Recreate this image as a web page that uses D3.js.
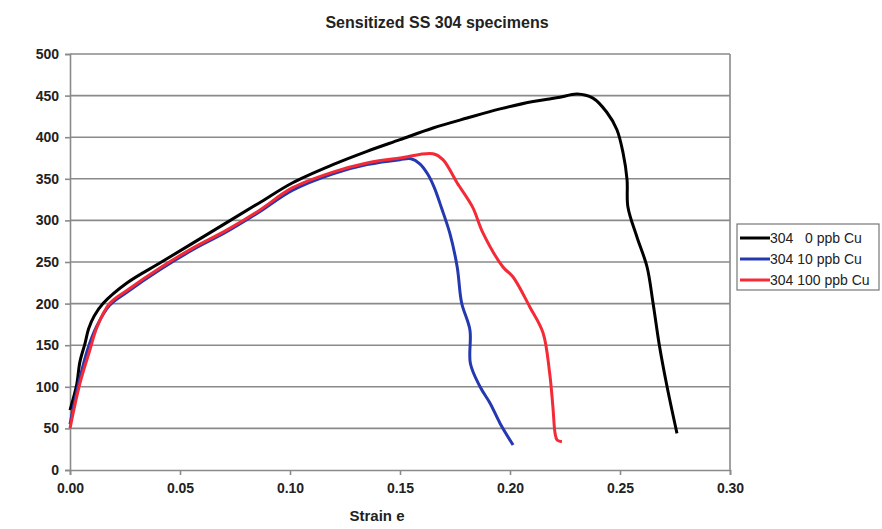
<html>
<head>
<script src="https://cdn.jsdelivr.net/npm/d3@7"></script>
<style>
  body { margin: 0; background: #fff; }
  text { font-family: "Liberation Sans", Arial, Helvetica, sans-serif; }
</style>
</head>
<body>
<script type="text/javascript">

// strain / stress pairs
var strain0 = [0, 0.003, 0.0045, 0.0068, 0.0085, 0.011, 0.015, 0.026, 0.041, 0.056, 0.071, 0.086, 0.101, 0.1195, 0.135, 0.15, 0.165, 0.1805, 0.1955, 0.2105, 0.218, 0.2227, 0.2305, 0.2377, 0.244, 0.2486, 0.2514, 0.2532, 0.2536, 0.2577, 0.2623, 0.265, 0.268, 0.2714, 0.2759];
var stress0 = [72, 102, 130, 152, 170, 185, 200, 225, 249, 273, 297, 321, 345, 367, 383, 397, 411, 423, 434, 443, 446, 448, 452, 447, 430, 409, 381, 349, 316, 280, 244, 201, 148, 100, 44];

var strain10 = [0, 0.004, 0.008, 0.012, 0.018, 0.026, 0.041, 0.056, 0.071, 0.086, 0.101, 0.1195, 0.135, 0.15, 0.155, 0.159, 0.1625, 0.1655, 0.169, 0.1727, 0.176, 0.178, 0.1818, 0.182, 0.1864, 0.191, 0.1955, 0.2014];
var stress10 = [55, 105, 145, 172, 198, 214, 241, 265, 286, 310, 336, 356, 367, 373, 374, 368, 356, 340, 314, 284, 244, 201, 168, 128, 100, 80, 56, 30];

var strain100 = [0, 0.0045, 0.009, 0.0123, 0.018, 0.026, 0.041, 0.056, 0.071, 0.086, 0.101, 0.1195, 0.135, 0.15, 0.165, 0.1695, 0.176, 0.183, 0.1877, 0.1968, 0.2014, 0.209, 0.215, 0.218, 0.2195, 0.2205, 0.2214, 0.2236];
var stress100 = [50, 104, 144, 172, 200, 216, 243, 267, 288, 312, 339, 358, 369, 375, 380, 373, 345, 316, 285, 244, 232, 196, 165, 117, 76, 44, 36, 34];

var seriesNames = ["304   0 ppb Cu", "304 10 ppb Cu", "304 100 ppb Cu"];
var seriesColors = ["#000000", "#2438b0", "#f42a36"];
var xTicks = [0, 0.05, 0.10, 0.15, 0.20, 0.25, 0.30];
var yTicks = [0, 50, 100, 150, 200, 250, 300, 350, 400, 450, 500];

var width = 882, height = 529;
var plotLeft = 70, plotRight = 730, plotTop = 54, plotBottom = 470;

var svg = d3.select("body").append("svg").attr("width", width).attr("height", height);

var x = d3.scaleLinear().domain([0, 0.30]).range([plotLeft, plotRight]);
var y = d3.scaleLinear().domain([0, 500]).range([plotBottom, plotTop]);

//gridlines
svg.append("g").selectAll("line").data(yTicks.slice(1)).enter().append("line")
  .attr("x1", plotLeft).attr("x2", plotRight)
  .attr("y1", function(d) { return y(d); }).attr("y2", function(d) { return y(d); })
  .attr("stroke", "#8a8a8a").attr("stroke-width", 1.6);

//right border
svg.append("line").attr("x1", plotRight).attr("x2", plotRight).attr("y1", plotTop).attr("y2", plotBottom)
  .attr("stroke", "#8a8a8a").attr("stroke-width", 1.6);

//axes
var yAxis = svg.append("g").attr("transform", "translate(" + plotLeft + ",0)")
  .call(d3.axisLeft(y).tickValues(yTicks).tickSize(5).tickPadding(6).tickFormat(d3.format("d")));
var xAxis = svg.append("g").attr("transform", "translate(0," + plotBottom + ")")
  .call(d3.axisBottom(x).tickValues(xTicks).tickSize(5).tickPadding(8).tickFormat(d3.format(".2f")));

[xAxis, yAxis].forEach(function(ax) {
  ax.select(".domain").attr("stroke", "#8a8a8a").attr("stroke-width", 1.6);
  ax.selectAll(".tick line").attr("stroke", "#8a8a8a").attr("stroke-width", 1.6);
  ax.selectAll(".tick text").attr("fill", "#222").attr("font-size", "14px").attr("font-weight", "bold")
    .attr("font-family", "'Liberation Sans', Arial, sans-serif");
});

//curves
var series = [[strain0, stress0], [strain10, stress10], [strain100, stress100]];
var lineCR = d3.line().x(function(d) { return x(d[0]); }).y(function(d) { return y(d[1]); }).curve(d3.curveCatmullRom.alpha(0.5));

// black first, then blue, red on top
series.forEach(function(s, i) {
  var pts = s[0].map(function(v, j) { return [v, s[1][j]]; });
  svg.append("path").datum(pts)
    .attr("d", lineCR)
    .attr("fill", "none")
    .attr("stroke", seriesColors[i])
    .attr("stroke-width", 3)
    .attr("stroke-linejoin", "round");
});

//legend
var legend = svg.append("g");
legend.append("rect").attr("x", 737).attr("y", 224).attr("width", 142).attr("height", 66)
  .attr("fill", "#fff").attr("stroke", "#777").attr("stroke-width", 1.2);
seriesNames.forEach(function(name, i) {
  var ly = 238 + i * 21;
  legend.append("line").attr("x1", 740).attr("x2", 770).attr("y1", ly).attr("y2", ly)
    .attr("stroke", seriesColors[i]).attr("stroke-width", 3);
  legend.append("text").attr("x", 770).attr("y", ly + 5).text(name)
    .attr("font-size", "14px").attr("fill", "#222").style("white-space", "pre");
});

//titles
svg.append("text").text("Sensitized SS 304 specimens")
  .attr("x", 437).attr("y", 28).attr("text-anchor", "middle")
  .attr("font-size", "16px").attr("font-weight", "bold").attr("fill", "#222");

svg.append("text").text("Strain e")
  .attr("x", 377).attr("y", 521).attr("text-anchor", "middle")
  .attr("font-size", "15px").attr("font-weight", "bold").attr("fill", "#222");

</script>
</body>
</html>
